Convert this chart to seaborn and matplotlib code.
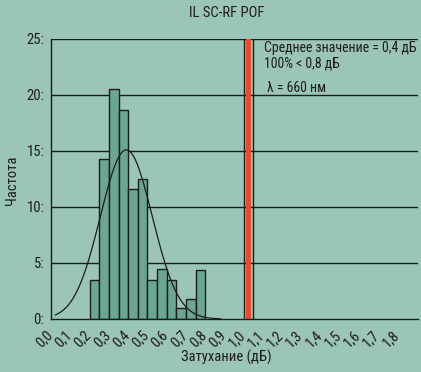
import numpy as np
import pandas as pd
import seaborn as sns
import matplotlib
matplotlib.use("Agg")
import matplotlib.pyplot as plt
from matplotlib import transforms

# ---- data ----
bin_left = [0.20, 0.25, 0.30, 0.35, 0.40, 0.45, 0.50, 0.55, 0.60, 0.65, 0.70, 0.75]
freq = [3.5, 14.3, 20.5, 18.7, 11.6, 12.5, 3.5, 4.5, 3.5, 1.0, 1.8, 4.4]
bin_width = 0.05
fit_mean = 0.39
fit_sd = 0.135
fit_peak = 15.1
fit_range = (0.02, 0.88)
limit_band = (1.0, 1.05)
x_ticks = [0.0, 0.1, 0.2, 0.3, 0.4, 0.5, 0.6, 0.7, 0.8, 0.9, 1.0,
           1.1, 1.2, 1.3, 1.4, 1.5, 1.6, 1.7, 1.8]
y_ticks = [0, 5, 10, 15, 20, 25]
title = "IL SC-RF POF"
xlabel = "Затухание (дБ)"
ylabel = "Частота"
notes = ["Среднее значение = 0,4 дБ", "100% < 0,8 дБ", "λ = 660 нм"]

BG = "#9cc5b9"
BAR = "#6ba594"
RED = "#ec4a2c"
INK = "#1c1c1c"
FONT = ["Roboto Condensed", "DejaVu Sans"]

sns.set_theme(style="white")
plt.rcParams["font.family"] = FONT
plt.rcParams["text.color"] = INK

fig = plt.figure(figsize=(4.21, 3.72), dpi=100, facecolor=BG)
ax = fig.add_axes([51.3 / 421, 1 - 319 / 372, (418 - 51.3) / 421, (319 - 39) / 372])
ax.set_facecolor(BG)

# horizontal grid
for v in y_ticks[1:]:
    ax.axhline(v, color=INK, lw=1.0, zorder=1)

# histogram from bin counts
df = pd.DataFrame({"x": np.array(bin_left) + bin_width / 2, "w": freq})
sns.histplot(data=df, x="x", weights="w", binwidth=bin_width,
             binrange=(bin_left[0], bin_left[-1] + bin_width),
             color=BAR, alpha=1.0, edgecolor=INK, linewidth=1.0, ax=ax, zorder=2)

# fitted normal curve
xs = np.linspace(fit_range[0], fit_range[1], 200)
ys = fit_peak * np.exp(-(xs - fit_mean) ** 2 / (2 * fit_sd ** 2))
sns.lineplot(x=xs, y=ys, color=INK, lw=0.9, ax=ax, zorder=3)

# limit marker
ax.axvspan(limit_band[0] + 0.01, limit_band[1] - 0.01, color=RED, lw=0, zorder=2)
ax.axvline(limit_band[0], color=INK, lw=1.0, zorder=3)
ax.axvline(limit_band[1], color=INK, lw=1.0, zorder=3)

ax.set_xlim(0, 1.906)
ax.set_ylim(0, 25)

for s in ["top", "right"]:
    ax.spines[s].set_visible(False)
for s in ["left", "bottom"]:
    ax.spines[s].set_color(INK)
    ax.spines[s].set_linewidth(1.0)

ax.set_yticks(y_ticks)
ax.set_yticklabels([f"{v}:" for v in y_ticks], fontsize=10.5)
ax.tick_params(axis="y", direction="out", length=3, width=1, color=INK, pad=2, labelcolor=INK)

ax.set_xticks(x_ticks)
ax.set_xticklabels([f"{v:.1f}".replace(".", ",") for v in x_ticks], rotation=45,
                   ha="right", fontsize=10.5)
ax.set_xticks(np.arange(0, 1.701, 0.05), minor=True)
ax.tick_params(axis="x", which="major", length=0, pad=6, labelcolor=INK)
ax.tick_params(axis="x", which="minor", direction="out", length=4, width=1, color=INK)
off = transforms.ScaledTranslation(4 / 100, 0, fig.dpi_scale_trans)
for lab in ax.get_xticklabels():
    lab.set_transform(lab.get_transform() + off)

ax.set_xlabel("")
ax.set_ylabel("")

fig.text(227 / 421, 1 - 13 / 372, title, ha="center", va="center", fontsize=10.5)
fig.text(226 / 421, 1 - 357 / 372, xlabel, ha="center", va="center", fontsize=10.5)
fig.text(12 / 421, 1 - 180 / 372, ylabel, ha="center", va="center", rotation=90, fontsize=10.5)

fig.text(264 / 421, 1 - 48 / 372, notes[0], ha="left", va="center", fontsize=10)
fig.text(264 / 421, 1 - 63 / 372, notes[1], ha="left", va="center", fontsize=10)
fig.text(267 / 421, 1 - 88 / 372, notes[2], ha="left", va="center", fontsize=10)

fig.savefig("out.png", dpi=100, facecolor=BG)
